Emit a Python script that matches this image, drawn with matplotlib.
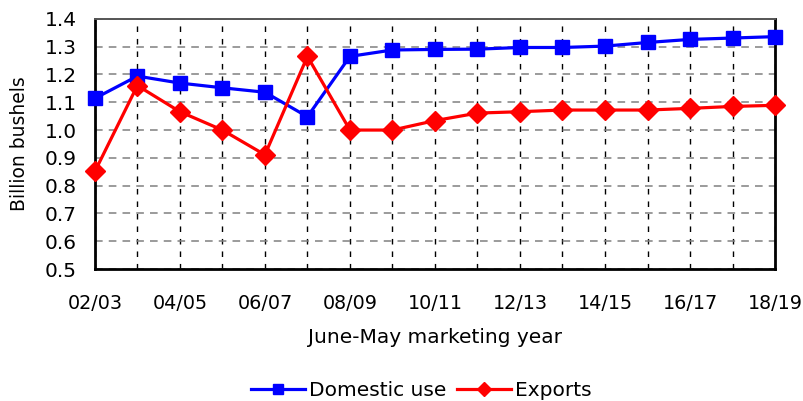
import matplotlib
matplotlib.use("Agg")
import matplotlib.pyplot as plt

years = ["02/03", "03/04", "04/05", "05/06", "06/07", "07/08", "08/09", "09/10", "10/11",
         "11/12", "12/13", "13/14", "14/15", "15/16", "16/17", "17/18", "18/19"]
domestic = [1.114, 1.194, 1.169, 1.152, 1.136, 1.048, 1.265, 1.288, 1.290,
            1.291, 1.297, 1.297, 1.302, 1.315, 1.326, 1.331, 1.336]
exports = [0.851, 1.160, 1.066, 1.000, 0.911, 1.265, 1.000, 1.000, 1.034,
           1.061, 1.066, 1.072, 1.072, 1.072, 1.078, 1.085, 1.089]
yticks = [0.5, 0.6, 0.7, 0.8, 0.9, 1.0, 1.1, 1.2, 1.3, 1.4]

plt.rcParams['font.family'] = ['DejaVu Sans']

fig = plt.figure(figsize=(8.04, 4.01), dpi=100)
ax = fig.add_axes([0.118, 0.329, 0.846, 0.624])

x = list(range(len(years)))
ax.plot(x, domestic, color='#0000FF', lw=2.3, marker='s', ms=9.5, label='Domestic use', zorder=3,
        clip_on=False)
ax.plot(x, exports, color='#FF0000', lw=2.3, marker='D', ms=10, label='Exports', zorder=3,
        clip_on=False)

ax.set_xlim(0, len(years) - 1)
ax.set_ylim(0.5, 1.4)
ax.set_yticks(yticks)
ax.set_yticklabels([f"{v:.1f}" for v in yticks], fontsize=14.5)
ax.set_xticks(x)
ax.set_xticklabels([y if i % 2 == 0 else "" for i, y in enumerate(years)], fontsize=13.8)
ax.tick_params(axis='x', length=0, pad=18)
ax.tick_params(axis='y', length=0, pad=13)

ax.yaxis.grid(True, linestyle=(0, (5, 4)), color='#808080', lw=1.1)
ax.xaxis.grid(True, linestyle=(0, (4, 5)), color='black', lw=1.0)
ax.set_axisbelow(True)

for s in ['left', 'bottom', 'right']:
    ax.spines[s].set_linewidth(2)
    ax.spines[s].set_color('black')
ax.spines['top'].set_linewidth(1.4)
ax.spines['top'].set_color('#555555')

ax.set_ylabel("Billion bushels", fontsize=13.5)
ax.yaxis.set_label_coords(-0.097, 0.5)
ax.set_xlabel("June-May marketing year", fontsize=14.5)
ax.xaxis.set_label_coords(0.5, -0.235)

fig.legend(loc='center', bbox_to_anchor=(0.524, 0.027), ncol=2, frameon=False,
           fontsize=14.5, handlelength=2.7, handletextpad=0.2, columnspacing=0.5,
           markerscale=0.75)

fig.savefig("out.png", dpi=100)
